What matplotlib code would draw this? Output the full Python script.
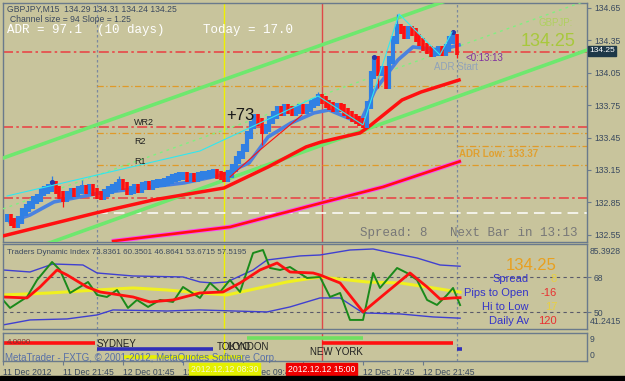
import numpy as np
import matplotlib
matplotlib.use("Agg")
import matplotlib.pyplot as plt
from matplotlib.transforms import blended_transform_factory as blend
from matplotlib.patches import Rectangle

plt.rcParams["font.family"] = ["Liberation Sans", "DejaVu Sans"]

W, H = 625, 381
BG = "#c8c49c"
EDGE = "#6a7a8c"
AXC = "#3a4a60"
BLUE = "#3080e4"
RED = "#ff1010"

# ---- time axis: hours since 11 Dec 2012 00:00 ----
XMIN, XMAX = 17.75, 56.68
T0, DT = 18.0, 0.25

# ---- GBPJPY M15 closes ----
close = [132.706, 132.669, 132.650, 132.687, 132.761, 132.798, 132.826, 132.872, 132.891, 132.946,
         132.965, 132.983, 133.011, 132.965, 132.919, 132.891, 132.919, 132.946, 132.937, 132.965,
         132.974, 132.965, 132.983, 132.946, 132.919, 132.909, 132.937, 132.965, 132.983, 133.002,
         133.030, 133.002, 132.956, 132.965, 132.983, 132.974, 133.002, 133.011, 133.002, 133.020,
         133.030, 133.030, 133.039, 133.057, 133.076, 133.085, 133.094, 133.094, 133.076, 133.085,
         133.076, 133.094, 133.104, 133.104, 133.113, 133.122, 133.104, 133.094, 133.076, 133.113,
         133.169, 133.243, 133.289, 133.354, 133.474, 133.567, 133.631, 133.594, 133.520, 133.539,
         133.613, 133.659, 133.706, 133.687, 133.724, 133.706, 133.687, 133.706, 133.724, 133.706,
         133.724, 133.761, 133.780, 133.817, 133.798, 133.761, 133.743, 133.724, 133.733, 133.724,
         133.687, 133.659, 133.631, 133.613, 133.594, 133.576, 133.752, 134.030, 134.169, 134.057,
         134.076, 133.937, 134.169, 134.354, 134.465, 134.446, 134.400, 134.446, 134.428, 134.372,
         134.335, 134.289, 134.261, 134.233, 134.243, 134.261, 134.243, 134.280, 134.354, 134.372,
         134.250]
wick_idx = [12, 15, 20, 30, 68, 83, 99, 104, 119, 120]
wick_end = [133.094, 132.807, 133.057, 133.094, 133.382, 133.872, 133.909, 134.594, 134.428, 134.187]
dot_idx = [12, 98, 119]
dot_price = [133.039, 134.196, 134.428]

# ---- moving averages / indicator lines ----
ma_red_t = [17.75, 23.95, 27.75, 32.48, 35.42, 37.95, 38.95, 41.55, 42.28, 44.35, 45.62, 48.15]
ma_red_p = [132.539, 132.752, 132.872, 132.983, 133.178, 133.363, 133.409, 133.493, 133.567, 133.798, 133.872, 133.983]
ma_blue_t = [18.22, 19.55, 21.15, 24.22, 29.82, 32.35, 34.15, 35.42, 36.95, 38.48, 39.48, 41.55, 42.55, 44.08, 45.08, 46.88, 48.15]
ma_blue_p = [132.669, 132.733, 132.854, 132.937, 133.030, 133.104, 133.215, 133.456, 133.585, 133.678, 133.706, 133.585, 133.891, 134.169, 134.289, 134.261, 134.307]
ma_fast_t = [32.88, 34.88, 37.68]
ma_fast_p = [133.085, 133.335, 133.659]
adr_t = [25.0, 32.88, 38.95, 43.08, 48.28]
adr_p = [132.49, 132.622, 132.844, 132.993, 133.233]
zz_t = [18.02, 30.88, 38.75, 41.75, 44.15, 46.88, 47.68]
zz_p = [132.909, 133.326, 133.835, 133.567, 134.594, 134.215, 134.428]
ch_t = [17.75, 56.68]
ch_up = [133.26, 135.18]
ch_mid = [132.79, 134.72]
ch_lo = [132.32, 134.26]

red_levels = [134.243, 133.548, 132.891]
orange_levels = [133.928, 133.493, 133.196, 133.37]
orange_from = [24.0, 24.0, 24.0, 48.0]
white_level = 132.752
price_ticks = [132.55, 132.85, 133.15, 133.45, 133.75, 134.05, 134.35, 134.65]

# ---- Traders Dynamic Index ----
tdi_up_t = [17.75, 19.55, 21.08, 23.08, 24.02, 26.42, 29.75, 30.88, 31.75, 32.68, 34.42, 35.35, 37.55, 38.88, 40.88, 42.42, 43.35, 45.35, 46.88, 48.22]
tdi_up_v = [71.9, 70.86, 75.01, 74.49, 70.34, 68.78, 68.27, 65.67, 65.15, 65.67, 71.9, 77.09, 79.2, 79.68, 82.28, 82.8, 81.24, 78.12, 74.49, 73.84]
tdi_lo_t = [17.75, 19.55, 22.02, 24.02, 25.08, 28.68, 30.88, 33.08, 35.35, 36.88, 38.88, 40.22, 41.75, 44.22, 46.42, 48.22]
tdi_lo_v = [43.35, 45.95, 46.47, 48.54, 51.13, 50.62, 51.13, 50.62, 50.1, 52.7, 57.37, 57.37, 49.58, 49.06, 47.5, 46.86]
tdi_mb_t = [17.75, 20.88, 24.02, 26.42, 28.68, 30.88, 32.68, 34.22, 36.68, 38.88, 42.02, 44.22, 46.02, 48.22]
tdi_mb_v = [58.92, 59.96, 61.52, 62.56, 61.52, 59.96, 58.92, 61.52, 65.67, 68.27, 65.67, 65.15, 63.07, 60.35]
tdi_sig_t = [17.75, 19.35, 20.22, 21.35, 22.02, 23.35, 24.22, 26.42, 27.55, 29.08, 30.88, 32.42, 33.55, 34.88, 36.02, 36.88, 38.42, 38.88, 40.22, 41.75, 43.35, 44.88, 46.02, 46.88, 47.75, 48.22]
tdi_sig_v = [57.88, 57.37, 63.07, 71.9, 69.3, 63.07, 60.48, 57.88, 55.29, 56.33, 59.96, 60.48, 65.15, 71.9, 75.53, 70.86, 70.34, 69.3, 65.15, 50.1, 60.48, 70.34, 63.07, 56.84, 57.37, 57.52]
tdi_rsi_t = [17.75, 18.22, 19.35, 20.02, 21.02, 21.55, 22.22, 22.88, 23.42, 24.02, 24.68, 25.35, 26.08, 26.68, 27.42, 28.22, 29.08, 29.75, 30.88, 31.55, 32.22, 32.88, 33.55, 34.42, 35.08, 35.55, 36.22, 36.88, 38.02, 38.88, 39.55, 40.22, 40.88, 41.75, 42.42, 42.88, 44.02, 44.68, 45.35, 46.02, 46.68, 47.35, 47.75, 48.22]
tdi_rsi_v = [56.33, 52.18, 57.88, 66.71, 76.05, 71.9, 59.96, 63.07, 65.67, 58.92, 57.88, 61.52, 52.18, 56.33, 52.7, 56.33, 55.29, 63.07, 57.37, 65.15, 60.48, 66.71, 60.48, 80.72, 82.28, 72.93, 71.9, 73.45, 67.74, 68.27, 57.88, 59.96, 45.95, 45.95, 70.34, 62.56, 72.93, 70.34, 66.71, 56.33, 53.73, 58.92, 62.56, 53.67]
TDI_MIN, TDI_MAX = 41.2415, 85.3928

# ---- session bars ----
sess_start = [17.75, 24.02, 25.75, 34.02, 39.02, 48.0]
sess_end = [23.88, 31.75, 33.75, 41.75, 47.75, 48.35]
sess_level = [5.79, 3.86, 1.29, 7.39, 5.79, 3.86]
sess_color = ["#ff1010", "#3030b8", "#e8f000", "#70e060", "#ff1010", "#3030b8"]

time_ticks = [17.75, 21.75, 25.75, 29.75, 33.75, 37.75, 41.75, 45.75]
time_labels = ["11 Dec 2012", "11 Dec 21:45", "12 Dec 01:45", "12 Dec 05:45",
               "12 Dec 09:45", "12 Dec 13:45", "12 Dec 17:45", "12 Dec 21:45"]


def fx(px):
    return px / W


def fy(py):
    return 1 - py / H


fig = plt.figure(figsize=(W / 100, H / 100), dpi=100, facecolor=BG)


def panel(top, bot):
    a = fig.add_axes([fx(3), fy(bot), fx(587) - fx(3), fy(top) - fy(bot)], facecolor=BG)
    for s in a.spines.values():
        s.set_color(EDGE)
        s.set_linewidth(1)
    a.set_xlim(XMIN, XMAX)
    a.yaxis.tick_right()
    a.tick_params(axis="y", colors=EDGE, labelcolor=AXC, labelsize=6.2, length=3, pad=2)
    a.tick_params(axis="x", bottom=False, labelbottom=False)
    return a


ax = panel(3, 242)
at = panel(244, 329)
asn = panel(333, 361)

for a in (ax, at, asn):
    a.axvline(24.0, color="#7a88a0", lw=0.9, ls=(0, (2, 2)), zorder=1)
    a.axvline(48.0, color="#7a88a0", lw=0.9, ls=(0, (2, 2)), zorder=1)
    a.axvline(32.5, color="#eef000", lw=1, zorder=1)
    a.axvline(39.0, color="#e04848", lw=1, zorder=1)

# ---- main price panel ----
ax.set_ylim(132.483, 134.696)
ax.set_yticks(price_ticks)
ax.set_yticklabels(["%.2f" % v for v in price_ticks])

for p in red_levels:
    ax.axhline(p, color="#e84848", lw=1.2, ls=(0, (6, 2, 1.5, 2)), zorder=2)
for p, x0 in zip(orange_levels, orange_from):
    ax.hlines(p, x0, XMAX, color="#e09a28", lw=0.9, ls=(0, (5, 2, 1, 2)), zorder=2)
ax.hlines(white_level, 24.0, XMAX, color="white", lw=1.1, ls=(0, (7, 4)), zorder=2)

ax.plot(ch_t, ch_up, color="#6ee86e", lw=2.6, zorder=3)
ax.plot(ch_t, ch_lo, color="#6ee86e", lw=2.6, zorder=3)
ax.plot(ch_t, ch_mid, color="#80f080", lw=1, ls=(0, (2, 3)), zorder=3)
ax.plot(adr_t, adr_p, color="#ff40ff", lw=3.2, zorder=3, solid_capstyle="butt")
ax.plot(adr_t, adr_p, color=RED, lw=1.9, zorder=3, solid_capstyle="butt")
ax.plot(ma_red_t, ma_red_p, color=RED, lw=2.5, zorder=4)
ax.plot(ma_blue_t, ma_blue_p, color="#4a82e0", lw=2.6, zorder=4)

c = np.array(close)
o = np.r_[c[0], c[:-1]]
t = T0 + DT * np.arange(len(c))
up = c >= o
pad = 0.036
lo = np.minimum(o, c) - pad
hi = np.maximum(o, c) + pad
ax.vlines(t[up], lo[up], hi[up], color=BLUE, lw=3.0, zorder=5)
ax.vlines(t[~up], lo[~up], hi[~up], color=RED, lw=2.6, zorder=5)
wi = np.array(wick_idx)
ax.vlines(t[wi], c[wi], wick_end, color=[BLUE if u else RED for u in up[wi]], lw=0.9, zorder=5)
ax.scatter(t[np.array(dot_idx)], dot_price, s=7, color="#2838a8", zorder=6)
ax.plot(ma_fast_t, ma_fast_p, color=RED, lw=0.8, zorder=6)
ax.plot(zz_t, zz_p, color="#30e8f0", lw=0.8, zorder=6)

ax.text(26.48, 133.594, "WR2", fontsize=6.5, color="#202020", va="center", zorder=7)
ax.text(26.48, 133.409, "R2", fontsize=6.5, color="#202020", va="center", zorder=7)
ax.text(26.48, 133.233, "R1", fontsize=6.5, color="#202020", va="center", zorder=7)
ax.text(32.65, 133.655, "+73", fontsize=12, color="#181818", va="center", zorder=7)
ax.text(48.15, 133.30, "ADR Low: 133.37", fontsize=7, color="#e0a030", weight="bold", va="center", zorder=7)
ax.text(48.6, 134.187, "<0:13:13", fontsize=7, color="#8030a0", va="center", zorder=7)
ax.text(46.48, 134.104, "ADR Start", fontsize=7, color="#90a2ba", va="center", zorder=7)

fig.text(fx(7), fy(9), "GBPJPY,M15  134.29 134.31 134.24 134.25", fontsize=6.2, color="#3c4a60", va="center")
fig.text(fx(10), fy(19), "Channel size = 94 Slope = 1.25", fontsize=6.2, color="#3c4a60", va="center")
fig.text(fx(7), fy(30), "ADR = 97.1  (10 days)", family="Liberation Mono", fontsize=9, color="white", va="center")
fig.text(fx(203), fy(30), "Today = 17.0", family="Liberation Mono", fontsize=9, color="white", va="center")
fig.text(fx(360), fy(233), "Spread: 8   Next Bar in 13:13", family="Liberation Mono", fontsize=9, color="#787878", va="center")
fig.text(fx(573), fy(23), "GBPJP:", fontsize=7, color="#b0d060", ha="right", va="center")
fig.text(fx(575), fy(42), "134.25", fontsize=13, color="#a8c83c", ha="right", va="center")
fig.text(fx(589), fy(51), "134.25", fontsize=6, color="white", va="center",
         bbox=dict(boxstyle="square,pad=0.15", fc="#1e3848", ec="#1e3848"))

# ---- TDI panel ----
at.set_ylim(TDI_MIN, TDI_MAX)
at.set_yticks([68, 50])
at.set_yticklabels(["68", "50"])
at.axhline(68, color="#5a5a6a", lw=0.8, ls=(0, (3, 3)))
at.axhline(50, color="#5a5a6a", lw=0.8, ls=(0, (3, 3)))
at.plot(tdi_up_t, tdi_up_v, color="#4040d0", lw=1)
at.plot(tdi_lo_t, tdi_lo_v, color="#4040d0", lw=1)
at.plot(tdi_mb_t, tdi_mb_v, color="#f0f020", lw=2.2)
at.plot(tdi_rsi_t, tdi_rsi_v, color="#1a8a1a", lw=1.4)
at.plot(tdi_sig_t, tdi_sig_v, color="#ff1010", lw=2)
fig.text(fx(590), fy(251), "85.3928", fontsize=6.2, color=AXC, va="center")
fig.text(fx(590), fy(322), "41.2415", fontsize=6.2, color=AXC, va="center")
fig.text(fx(7), fy(252), "Traders Dynamic Index 73.8361 60.3501 46.8641 53.6715 57.5195",
         fontsize=5.8, color="#3c4a60", va="center")
fig.text(fx(557), fy(265), "134.25", fontsize=12, color="#e8a020", ha="right", va="center")
info_names = ["Spread", "Pips to Open", "Hi to Low", "Daily Av"]
info_vals = ["8", "-16", "17", "120"]
info_cols = ["#e8d040", "#e83030", "#e8d040", "#e83030"]
for k, (n, v, col) in enumerate(zip(info_names, info_vals, info_cols)):
    yy = 279 + 14 * k
    fig.text(fx(529), fy(yy), n, fontsize=8, color="#3434c8", ha="right", va="center")
    fig.text(fx(557), fy(yy), v, fontsize=8, color=col, ha="right", va="center")

# ---- sessions panel ----
asn.set_ylim(0, 9)
asn.set_yticks([])
for s0, s1, lv, col in zip(sess_start, sess_end, sess_level, sess_color):
    asn.hlines(lv, s0, s1, color=col, lw=2.6)
asn.text(18.0, 5.9, "4.0000", fontsize=5.8, color="#803030", va="center")
asn.text(24.02, 5.5, "SYDNEY", fontsize=7, color="#202020", va="center")
asn.text(32.02, 4.5, "TOKYO", fontsize=7, color="#202020", va="center")
asn.text(32.68, 4.5, "LONDON", fontsize=7, color="#202020", va="center")
asn.text(38.22, 2.9, "NEW YORK", fontsize=7, color="#202020", va="center")
fig.text(fx(5), fy(358), "MetaTrader - FXTG, \u00a9 2001-2012, MetaQuotes Software Corp.",
         fontsize=7, color="#5870a8", va="center")
fig.text(fx(590), fy(339), "9", fontsize=6.2, color=AXC, va="center")
fig.text(fx(590), fy(356), "0", fontsize=6.2, color=AXC, va="center")

asn.set_xticks(time_ticks)
asn.set_xticklabels(time_labels)
asn.tick_params(axis="x", bottom=True, labelbottom=True, direction="out", length=3,
                colors=EDGE, labelcolor=AXC, labelsize=6.2, pad=2)
for lb in asn.get_xticklabels():
    lb.set_ha("left")
tr = blend(asn.transData, asn.transAxes)
asn.text(32.5, -0.29, "2012.12.12 08:30", transform=tr, fontsize=6.2, color="#f8f8d0", ha="center", va="center",
         bbox=dict(boxstyle="square,pad=0.2", fc="#e4f000", ec="#e4f000"), zorder=10, clip_on=False)
asn.text(39.0, -0.29, "2012.12.12 15:00", transform=tr, fontsize=6.2, color="white", ha="center", va="center",
         bbox=dict(boxstyle="square,pad=0.2", fc="#f00000", ec="#f00000"), zorder=10, clip_on=False)

fig.patches.append(Rectangle((0, 0), 1, 5 / H, transform=fig.transFigure, color="black"))

fig.savefig("out.png", dpi=100, facecolor=BG)
